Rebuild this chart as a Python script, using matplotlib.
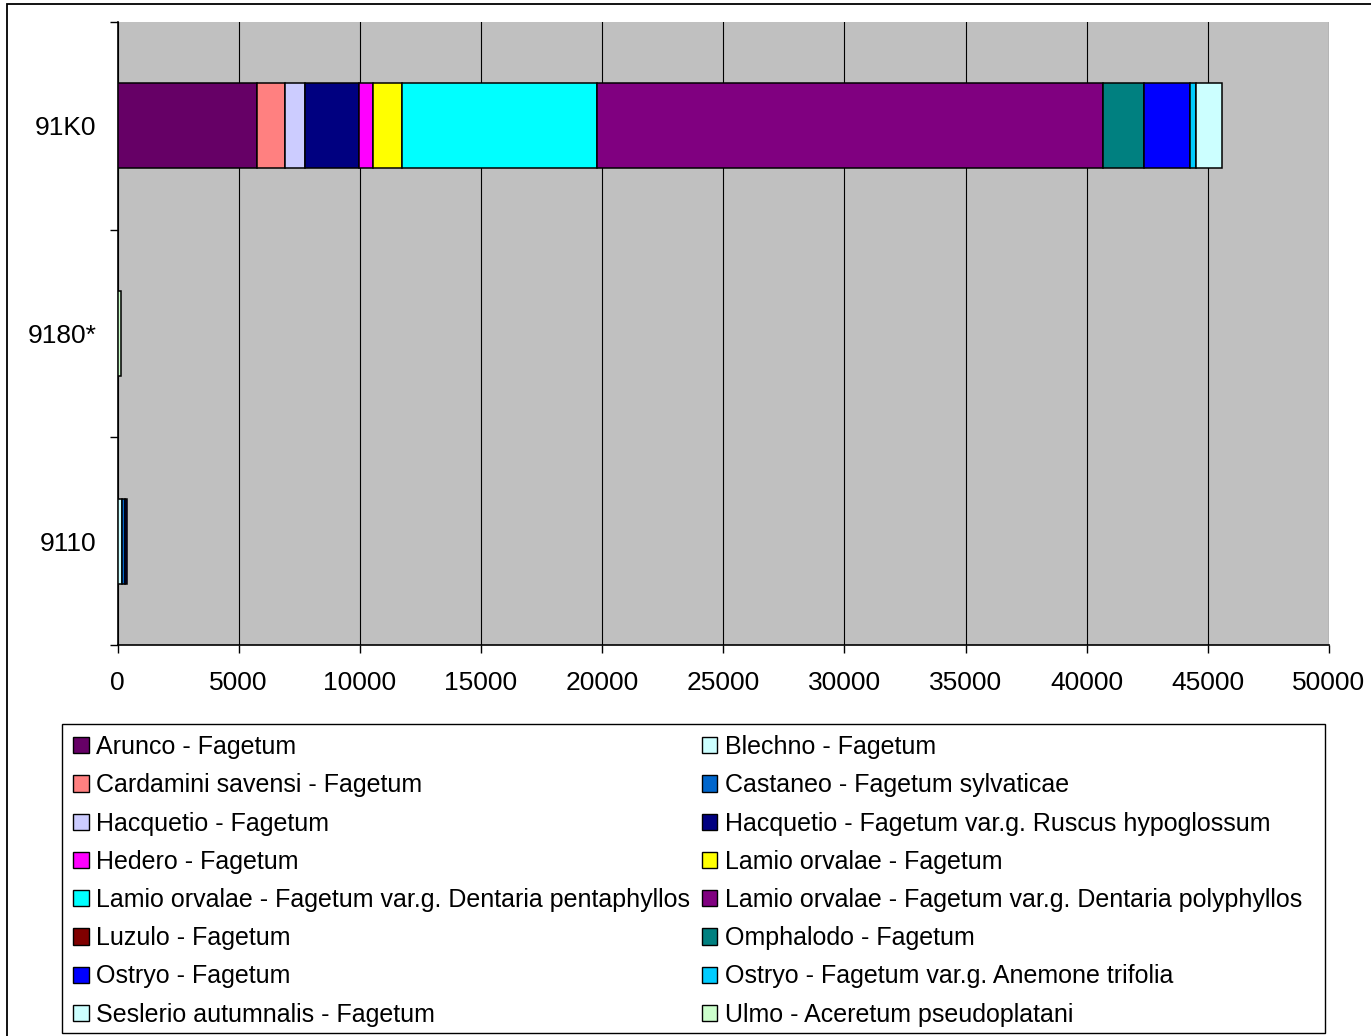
import numpy as np
import matplotlib
matplotlib.use("Agg")
import matplotlib.pyplot as plt
from matplotlib.patches import Patch, Rectangle

plt.rcParams['font.family'] = ['Liberation Sans', 'DejaVu Sans']

# Habitat types (bottom to top)
habitats = ["9110", "9180*", "91K0"]

# Forest associations and their areas per habitat type
associations = [
    "Arunco - Fagetum",
    "Blechno - Fagetum",
    "Cardamini savensi - Fagetum",
    "Castaneo - Fagetum sylvaticae",
    "Hacquetio - Fagetum",
    "Hacquetio - Fagetum var.g. Ruscus hypoglossum",
    "Hedero - Fagetum",
    "Lamio orvalae - Fagetum",
    "Lamio orvalae - Fagetum var.g. Dentaria pentaphyllos",
    "Lamio orvalae - Fagetum var.g. Dentaria polyphyllos",
    "Luzulo - Fagetum",
    "Omphalodo - Fagetum",
    "Ostryo - Fagetum",
    "Ostryo - Fagetum var.g. Anemone trifolia",
    "Seslerio autumnalis - Fagetum",
    "Ulmo - Aceretum pseudoplatani",
]

arunco = [0, 0, 5743]
blechno = [180, 0, 0]
cardamini = [0, 0, 1168]
castaneo = [110, 0, 0]
hacquetio = [0, 0, 812]
hacquetio_ruscus = [100, 0, 2240]
hedero = [0, 0, 591]
lamio = [0, 0, 1183]
lamio_pentaphyllos = [0, 0, 8046]
lamio_polyphyllos = [0, 0, 20880]
luzulo = [0, 0, 0]
omphalodo = [0, 0, 1720]
ostryo = [0, 0, 1870]
ostryo_anemone = [0, 0, 248]
seslerio = [0, 0, 1073]
ulmo = [0, 150, 0]

series = [arunco, blechno, cardamini, castaneo, hacquetio, hacquetio_ruscus,
          hedero, lamio, lamio_pentaphyllos, lamio_polyphyllos, luzulo,
          omphalodo, ostryo, ostryo_anemone, seslerio, ulmo]

colors = ["#660066", "#CCFFFF", "#FF8080", "#0066CC", "#CCCCFF", "#000080",
          "#FF00FF", "#FFFF00", "#00FFFF", "#800080", "#800000", "#008080",
          "#0000FF", "#00CCFF", "#CCFFFF", "#CCFFCC"]

xticks = [0, 5000, 10000, 15000, 20000, 25000, 30000, 35000, 40000, 45000, 50000]

W, H = 1371, 1036
fig = plt.figure(figsize=(W / 100, H / 100), dpi=100)
ax = fig.add_axes([117.5 / W, 1 - 645 / H, (1329 - 117.5) / W, (645 - 22) / H])
ax.set_facecolor("#C0C0C0")

y = np.arange(len(habitats))
left = np.zeros(len(habitats))
for vals, col in zip(series, colors):
    vals = np.asarray(vals, dtype=float)
    idx = vals > 0
    if idx.any():
        ax.barh(y[idx], vals[idx], left=left[idx], height=0.41, color=col,
                edgecolor="black", linewidth=1.1, zorder=3)
    left += vals

ax.set_xlim(0, 50000)
ax.set_ylim(-0.5, 2.5)
ax.set_xticks(xticks)
ax.set_xticklabels([str(v) for v in xticks], fontsize=19)
ax.set_yticks(y)
ax.set_yticklabels(habitats, fontsize=19)
ax.set_yticks([-0.5, 0.5, 1.5, 2.5], minor=True)
ax.tick_params(axis="y", which="major", length=0, pad=15)
ax.tick_params(axis="y", which="minor", length=6, width=1, direction="out")
ax.tick_params(axis="x", which="major", length=6, width=1, direction="out", pad=13)
ax.xaxis.grid(True, color="black", linewidth=0.8, zorder=1)
ax.set_axisbelow(True)
for s in ["top", "right"]:
    ax.spines[s].set_visible(False)
ax.spines["left"].set_linewidth(1.2)
ax.spines["bottom"].set_linewidth(1.2)

# Legend box
fig.add_artist(Rectangle((62 / W, 1 - 1033 / H), (1325 - 62) / W, (1033 - 724) / H,
                         transform=fig.transFigure, fill=False,
                         edgecolor="black", linewidth=1.0))

# Legend entries, filled row by row in two columns
handles = [Patch(facecolor=c, edgecolor="black", linewidth=1.0) for c in colors]
order = list(range(0, 16, 2)) + list(range(1, 16, 2))
leg = fig.legend([handles[i] for i in order], [associations[i] for i in order],
                 ncol=2, loc="upper left",
                 bbox_to_anchor=(73 / W, 1 - 735 / H),
                 bbox_transform=fig.transFigure, borderaxespad=0, borderpad=0,
                 fontsize=18, handlelength=0.62, handleheight=0.62, handletextpad=0.32,
                 labelspacing=0.57, columnspacing=0.44, frameon=False)

# Outer chart border
fig.add_artist(Rectangle((7 / W, -0.01), 1.02, 1 - 4 / H + 0.01,
                         transform=fig.transFigure, fill=False,
                         edgecolor="black", linewidth=1.3))

fig.savefig("out.png", dpi=100)
